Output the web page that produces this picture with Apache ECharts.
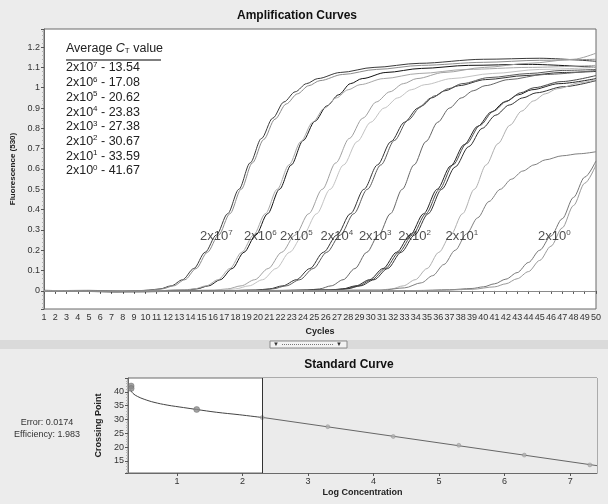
<!DOCTYPE html>
<html>
<head>
<meta charset="utf-8">
<title>Amplification Curves</title>
<script src="https://cdn.jsdelivr.net/npm/echarts/dist/echarts.min.js"></script>
<style>
html,body{margin:0;padding:0;background:#ececec;}
#chart{width:608px;height:504px;}
</style>
</head>
<body>
<div id="chart"></div>
<script>
// amplification curves: [cycle, fluorescence]
var g7a = [[1,0.003],[4,0],[7,-0.004],[9,-0.002],[10.3,0.004],[11.3,0.01],[12.3,0.025],[13.3,0.055],[14.3,0.11],[15.3,0.19],[16.3,0.275],[17.3,0.38],[18.3,0.5],[19.3,0.63],[20.3,0.75],[21.3,0.85],[22.3,0.93],[23.3,0.98],[24.3,1.02],[25.3,1.045],[27.3,1.075],[30.3,1.1],[34.3,1.12],[40,1.14],[45,1.145],[50,1.13]];
var g7b = [[1,0],[5,0.003],[8,-0.003],[10.5,0.004],[11.5,0.01],[12.5,0.025],[13.5,0.055],[14.5,0.11],[15.5,0.19],[16.5,0.275],[17.5,0.38],[18.5,0.5],[19.5,0.63],[20.5,0.745],[21.5,0.845],[22.5,0.92],[23.5,0.97],[24.5,1.01],[25.5,1.035],[27.5,1.065],[30.5,1.09],[34.5,1.11],[40,1.125],[45,1.135],[50,1.14]];
var g6a = [[1,0],[6,-0.003],[10,0],[13.5,0.004],[14.55,0.01],[15.6,0.025],[16.65,0.055],[17.7,0.11],[18.75,0.19],[19.8,0.275],[20.85,0.38],[21.9,0.5],[22.95,0.62],[24,0.74],[25.05,0.835],[26.1,0.91],[27.15,0.965],[28.2,1.02],[29.25,1.045],[31.35,1.075],[34.5,1.095],[38.7,1.11],[44,1.115],[50,1.1]];
var g6b = [[1,0.002],[7,-0.002],[10,0],[13.3,0.004],[14.35,0.01],[15.4,0.025],[16.45,0.055],[17.5,0.11],[18.55,0.19],[19.6,0.275],[20.65,0.38],[21.7,0.5],[22.75,0.62],[23.8,0.735],[24.85,0.83],[25.9,0.9],[26.95,0.95],[28,0.99],[29.05,1.015],[31.15,1.045],[34.3,1.07],[38.5,1.09],[44,1.1],[50,1.11]];
var g5a = [[1,0],[8,-0.003],[12,0],[16.1,0.004],[17.3,0.01],[18.5,0.025],[19.7,0.055],[20.9,0.11],[22.1,0.19],[23.3,0.275],[24.5,0.38],[25.7,0.5],[26.9,0.63],[28.1,0.75],[29.3,0.85],[30.5,0.93],[31.7,0.98],[32.9,1.02],[34.1,1.045],[36.5,1.075],[40.1,1.1],[44,1.12],[48,1.14],[50,1.17]];
var g5b = [[1,0],[9,-0.002],[13,0],[16.8,0.004],[18,0.01],[19.2,0.025],[20.4,0.055],[21.6,0.11],[22.8,0.19],[24,0.275],[25.2,0.38],[26.4,0.5],[27.6,0.62],[28.8,0.735],[30,0.83],[31.2,0.9],[32.4,0.95],[33.6,0.99],[34.8,1.015],[37.2,1.045],[40.8,1.07],[45,1.09],[50,1.1]];
var g4a = [[1,0],[8,-0.004],[15,-0.002],[19.8,0.004],[21,0.01],[22.2,0.025],[23.4,0.055],[24.6,0.11],[25.8,0.19],[27,0.275],[28.2,0.38],[29.4,0.5],[30.6,0.62],[31.8,0.735],[33,0.83],[34.2,0.9],[35.4,0.95],[36.6,0.985],[37.8,1.01],[40.2,1.04],[43.8,1.06],[47,1.075],[50,1.08]];
var g4b = [[1,0],[10,-0.003],[16,0],[20.1,0.004],[21.3,0.01],[22.5,0.025],[23.7,0.055],[24.9,0.11],[26.1,0.19],[27.3,0.275],[28.5,0.38],[29.7,0.5],[30.9,0.62],[32.1,0.74],[33.3,0.84],[34.5,0.91],[35.7,0.96],[36.9,0.995],[38.1,1.02],[40.5,1.05],[44.1,1.07],[47,1.085],[50,1.09]];
var g3a = [[1,0.002],[9,-0.003],[18,0],[24.4,0.004],[25.45,0.01],[26.5,0.025],[27.55,0.055],[28.6,0.11],[29.65,0.19],[30.7,0.275],[31.75,0.38],[32.8,0.5],[33.85,0.62],[34.9,0.735],[35.95,0.83],[37,0.9],[38.05,0.95],[39.1,0.985],[40.15,1.01],[42.25,1.04],[45.4,1.065],[50,1.085]];
var g2a = [[1,0],[8,-0.004],[18,0],[26.3,0.004],[27.5,0.01],[28.7,0.025],[29.9,0.055],[31.1,0.11],[32.3,0.19],[33.5,0.275],[34.7,0.38],[35.9,0.5],[37.1,0.615],[38.3,0.72],[39.5,0.81],[40.7,0.88],[41.9,0.93],[43.1,0.965],[44.3,0.99],[46.7,1.02],[50,1.045]];
var g2b = [[1,0.002],[9,-0.002],[19,0],[26.5,0.004],[27.7,0.01],[28.9,0.025],[30.1,0.055],[31.3,0.11],[32.5,0.19],[33.7,0.275],[34.9,0.38],[36.1,0.5],[37.3,0.62],[38.5,0.725],[39.7,0.815],[40.9,0.885],[42.1,0.935],[43.3,0.975],[44.5,1],[46.9,1.03],[50,1.06]];
var g2c = [[1,0],[10,-0.003],[20,0],[26.7,0.004],[27.9,0.01],[29.1,0.025],[30.3,0.055],[31.5,0.11],[32.7,0.19],[33.9,0.275],[35.1,0.38],[36.3,0.5],[37.5,0.61],[38.7,0.71],[39.9,0.8],[41.1,0.865],[42.3,0.915],[43.5,0.95],[44.7,0.975],[47.1,1.005],[50,1.035]];
var g1a = [[1,0],[8,-0.003],[20,0],[30.8,0.004],[31.85,0.01],[32.9,0.025],[33.95,0.055],[35,0.11],[36.05,0.19],[37.1,0.275],[38.15,0.38],[39.2,0.5],[40.25,0.62],[41.3,0.725],[42.35,0.815],[43.4,0.885],[44.45,0.935],[45.5,0.97],[46.55,0.995],[48.65,1.025],[50,1.04]];
var g1b = [[1,0.002],[9,-0.003],[20,0],[31,0.004],[33,0.015],[34.5,0.04],[35.5,0.075],[36.5,0.13],[37.5,0.2],[38.5,0.28],[39.5,0.36],[40.5,0.44],[41.5,0.5],[42.5,0.55],[43.5,0.59],[44.5,0.62],[45.5,0.645],[47,0.665],[48.5,0.675],[50,0.685]];
var g0a = [[1,0],[10,-0.003],[22,0],[34,0.002],[37,0.006],[39,0.012],[40,0.02],[41,0.035],[42,0.058],[43,0.09],[44,0.14],[45,0.2],[46,0.27],[47,0.355],[48,0.46],[49,0.56],[50,0.64]];
var g0b = [[1,0.002],[11,-0.002],[24,0],[36,0.002],[39,0.008],[41,0.02],[42,0.035],[43,0.06],[44,0.095],[45,0.15],[46,0.22],[47,0.31],[48,0.42],[49,0.53],[50,0.62]];

// dilution tags and their average Ct
var exponents = [7, 6, 5, 4, 3, 2, 1, 0];
var ctValues = ['13.54', '17.08', '20.62', '23.83', '27.38', '30.67', '33.59', '41.67'];
var tagCycles = [16.3, 20.2, 23.4, 27.0, 30.4, 33.9, 38.1, 46.3];
var tagLevel = 0.27;

// standard curve
var logConc = [0.301, 0.301, 1.301, 2.301, 3.301, 4.301, 5.301, 6.301, 7.301];
var crossingPoint = [42.1, 41.2, 33.6, 30.67, 27.38, 23.83, 20.62, 17.08, 13.54];
var fitLeft = [[0.29,40.8],[0.33,39.4],[0.4,38.3],[0.5,37.3],[0.65,36.2],[0.85,35.2],[1.1,34.3],[1.3,33.6],[1.6,32.6],[1.95,31.7],[2.3,30.7]];
var fitRight = [[2.3,30.74],[7.41,13.26]];
var rangeStart = 2.3;

var curves = [
	{data:g7a,color:'#3a3a3a'},{data:g7b,color:'#8c8c8c'},
	{data:g6a,color:'#111111'},{data:g6b,color:'#a8a8a8'},
	{data:g5a,color:'#a0a0a0'},{data:g5b,color:'#c2c2c2'},
	{data:g4a,color:'#333333'},{data:g4b,color:'#5a5a5a'},
	{data:g3a,color:'#666666'},
	{data:g2a,color:'#222222'},{data:g2b,color:'#4a4a4a'},{data:g2c,color:'#333333'},
	{data:g1a,color:'#b0b0b0'},{data:g1b,color:'#808080'},
	{data:g0a,color:'#777777'},{data:g0b,color:'#9a9a9a'}
];

var FONT = '"Liberation Sans", Arial, sans-serif';
var chart = echarts.init(document.getElementById('chart'));

var series = [];
curves.forEach(function(cur){
	series.push({
		type:'line',
		xAxisIndex:0, yAxisIndex:0,
		data:cur.data,
		smooth:0.3,
		smoothMonotone:'x',
		showSymbol:false,
		silent:true,
		z:3,
		lineStyle:{color:cur.color,width:1}
	});
});

// baseline at 0
series.push({
	type:'line', xAxisIndex:0, yAxisIndex:0, data:[], z:2,
	markLine:{silent:true,symbol:'none',label:{show:false},
		lineStyle:{color:'#8a8a8a',type:'solid',width:1},
		data:[{yAxis:0}]}
});

// dilution tags inside the plot
series.push({
	type:'scatter', xAxisIndex:0, yAxisIndex:0, z:5, silent:true,
	symbolSize:1, itemStyle:{color:'rgba(0,0,0,0)'},
	data:tagCycles.map(function(c){return [c,tagLevel];}),
	label:{
		show:true, position:'inside',
		formatter:function(p){return '2x10{s|'+exponents[p.dataIndex]+'}';},
		fontSize:13, fontFamily:FONT, color:'#222', lineHeight:15,
		rich:{s:{fontSize:8,fontFamily:FONT,color:'#222',verticalAlign:'top',lineHeight:8}}
	}
});

// standard curve: shaded fitted range + boundary
series.push({
	type:'line', xAxisIndex:1, yAxisIndex:1, data:[], z:1, silent:true,
	markArea:{silent:true,itemStyle:{color:'#ebebeb'},data:[[{xAxis:rangeStart},{xAxis:7.41}]]},
	markLine:{silent:true,symbol:'none',label:{show:false},
		lineStyle:{color:'#333',type:'solid',width:1},data:[{xAxis:rangeStart}]}
});
series.push({
	type:'line', xAxisIndex:1, yAxisIndex:1, data:fitLeft, smooth:0.4,
	showSymbol:false, silent:true, z:3, lineStyle:{color:'#444',width:1}
});
series.push({
	type:'line', xAxisIndex:1, yAxisIndex:1, data:fitRight,
	showSymbol:false, silent:true, z:3, lineStyle:{color:'#666',width:1}
});
var ptsIn = [], ptsOut = [];
logConc.forEach(function(x,i){
	if (x < rangeStart) ptsOut.push([x,crossingPoint[i]]);
	else ptsIn.push([x,crossingPoint[i]]);
});
series.push({
	type:'scatter', xAxisIndex:1, yAxisIndex:1, data:ptsOut, z:4, silent:true,
	symbolSize:6, itemStyle:{color:'#8a8a8a',borderColor:'#666',borderWidth:0.5}
});
series.push({
	type:'scatter', xAxisIndex:1, yAxisIndex:1, data:ptsIn, z:4, silent:true,
	symbolSize:4, itemStyle:{color:'#b0b0b0',borderColor:'#888',borderWidth:0.5}
});

var axisLbl = {fontSize:9,color:'#333',fontFamily:FONT};
var nameStyle = {fontSize:9,fontWeight:'bold',color:'#222',fontFamily:FONT};

var legendLines = exponents.map(function(e,i){
	return '2x10{s|'+e+'} - '+ctValues[i];
}).join('\n');

var options = {
	animation:false,
	backgroundColor:'#ececec',
	grid:[
		{left:44,top:29,width:552,height:280,show:true,backgroundColor:'#fff',borderColor:'#6a6a6a',borderWidth:1},
		{left:128,top:378,width:469,height:95,show:true,backgroundColor:'#fff',borderColor:'#6a6a6a',borderWidth:1}
	],
	xAxis:[
		{type:'value',gridIndex:0,min:1,max:50,interval:1,
			axisLine:{lineStyle:{color:'#6a6a6a'}},
			axisTick:{length:3,lineStyle:{color:'#555'}},
			axisLabel:Object.assign({margin:4},axisLbl),
			splitLine:{show:false},
			name:'Cycles',nameLocation:'middle',nameGap:15,nameTextStyle:nameStyle},
		{type:'value',gridIndex:1,min:0.253,max:7.41,splitNumber:7,minInterval:1,maxInterval:1,
			axisLine:{lineStyle:{color:'#6a6a6a'}},
			axisTick:{length:3,lineStyle:{color:'#555'}},
			axisLabel:Object.assign({margin:4,showMinLabel:false,showMaxLabel:false},axisLbl),
			splitLine:{show:false},
			name:'Log Concentration',nameLocation:'middle',nameGap:15,nameTextStyle:nameStyle}
	],
	yAxis:[
		{type:'value',gridIndex:0,min:-0.089,max:1.289,minInterval:0.1,maxInterval:0.1,
			axisLine:{show:true,lineStyle:{color:'#6a6a6a'}},
			axisTick:{show:true,length:3,lineStyle:{color:'#555'}},
			minorTick:{show:true,splitNumber:5,length:2,lineStyle:{color:'#b5b5b5'}},
			axisLabel:Object.assign({margin:4,showMinLabel:false,showMaxLabel:false,
				formatter:function(v){return v < -0.001 ? '' : String(+v.toFixed(1));}},axisLbl),
			splitLine:{show:false},
			name:'Fluorescence (530)',nameLocation:'middle',nameGap:27,
			nameTextStyle:{fontSize:8,fontWeight:'bold',color:'#222',fontFamily:FONT}},
		{type:'value',gridIndex:1,min:10.6,max:45,minInterval:5,maxInterval:5,
			axisLine:{show:true,lineStyle:{color:'#6a6a6a'}},
			axisTick:{show:true,length:3,lineStyle:{color:'#555'}},
			minorTick:{show:true,splitNumber:5,length:2,lineStyle:{color:'#b5b5b5'}},
			axisLabel:Object.assign({margin:4,showMinLabel:false,showMaxLabel:false},axisLbl),
			splitLine:{show:false},
			name:'Crossing Point',nameLocation:'middle',nameGap:16,nameTextStyle:nameStyle}
	],
	graphic:[
		{type:'text',x:297,y:10,style:{text:'Amplification Curves',font:'bold 12px '+FONT,fill:'#111',textAlign:'center'}},
		{type:'text',x:66,y:42,style:{text:'Average {i|C}{sub|T} value',font:'12.5px '+FONT,fill:'#222',
			rich:{i:{fontStyle:'italic',fontSize:12.5,fontFamily:FONT,fill:'#222'},
				sub:{fontSize:8,fontFamily:FONT,fill:'#222',verticalAlign:'bottom',lineHeight:8}}}},
		{type:'line',shape:{x1:66,y1:60,x2:161,y2:60},style:{stroke:'#555',lineWidth:1.5}},
		{type:'text',x:66,y:60.6,style:{text:legendLines,font:'12.5px '+FONT,fill:'#222',lineHeight:14.7,
			rich:{s:{fontSize:8,fontFamily:FONT,fill:'#222',verticalAlign:'top',lineHeight:8}}}},
		// splitter between panels
		{type:'rect',shape:{x:0,y:340,width:608,height:9},style:{fill:'#dadada'}},
		{type:'rect',shape:{x:270,y:341,width:77,height:7},style:{fill:'#f2f2f2',stroke:'#8a8a8a',lineWidth:1}},
		{type:'text',x:273,y:341,style:{text:'\u25BC',font:'6px '+FONT,fill:'#333'}},
		{type:'text',x:336,y:341,style:{text:'\u25BC',font:'6px '+FONT,fill:'#333'}},
		{type:'line',shape:{x1:282,y1:344.5,x2:333,y2:344.5},style:{stroke:'#777',lineWidth:1,lineDash:[1,1]}},
		{type:'text',x:349,y:359,style:{text:'Standard Curve',font:'bold 12px '+FONT,fill:'#111',textAlign:'center'}},
		{type:'text',x:47,y:417,style:{text:'Error: 0.0174\nEfficiency: 1.983',font:'9px '+FONT,fill:'#333',textAlign:'center',lineHeight:12}},
		{type:'text',x:372,y:398,style:{text:'Y = -3.4217x + 38.614\n2.3 \u2264 x \u2264 7.3',font:'13px '+FONT,fill:'#222',lineHeight:15}}
	],
	series:series
};
chart.setOption(options);
</script>
</body>
</html>
